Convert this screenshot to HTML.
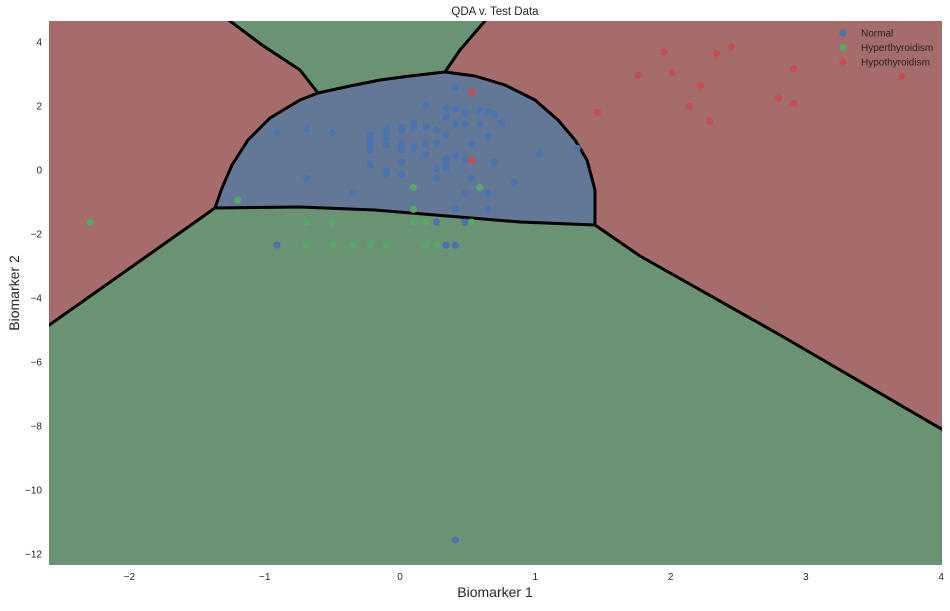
<!DOCTYPE html>
<html><head><meta charset="utf-8"><style>
body{margin:0;background:#fff;font-family:"Liberation Sans",sans-serif;}
svg text{font-family:"Liberation Sans",sans-serif;}
</style></head><body>
<svg id="chart" width="950" height="606" xmlns="http://www.w3.org/2000/svg"></svg>
<script>
const xTicks=[-2,-1,0,1,2,3,4];
const yTicks=[4,2,0,-2,-4,-6,-8,-10,-12];
const normalX=[0.41,0.19,0.34,0.41,0.48,0.59,0.65,0.70,0.34,0.75,0.41,0.48,0.59,-0.91,-0.69,-0.50,-0.22,-0.22,-0.22,-0.22,-0.10,-0.10,-0.10,-0.10,0.01,0.01,0.01,0.01,0.10,0.10,0.19,0.19,0.19,0.27,0.27,0.34,0.65,0.53,1.03,1.31,0.10,-0.22,0.01,-0.10,-0.10,0.01,0.27,0.34,0.34,0.34,0.41,0.48,0.70,-0.69,0.27,0.53,0.84,-0.35,0.48,0.65,0.41,0.65,0.27,0.48,-0.91,0.34,0.41,0.41];
const normalY=[2.58,2.03,1.93,1.90,1.77,1.86,1.83,1.74,1.65,1.49,1.44,1.44,1.44,1.16,1.30,1.16,1.09,0.94,0.78,0.63,1.30,1.15,0.99,0.78,1.33,1.23,0.81,0.63,1.46,1.33,1.35,0.81,0.50,1.25,0.84,1.09,1.05,0.81,0.50,0.68,0.71,0.15,0.24,-0.02,-0.14,-0.14,0.05,0.36,0.26,0.06,0.44,0.31,0.24,-0.26,-0.26,-0.26,-0.39,-0.73,-0.73,-0.73,-1.23,-1.23,-1.63,-1.63,-2.35,-2.35,-2.35,-11.56];
const hyperX=[-1.20,0.10,0.59,0.10,-0.69,-0.50,0.10,0.19,0.53,-0.69,-0.50,-0.35,-0.22,-0.10,0.19,0.27,-2.29];
const hyperY=[-0.94,-0.54,-0.54,-1.23,-1.63,-1.63,-1.63,-1.63,-1.63,-2.35,-2.35,-2.35,-2.35,-2.35,-2.35,-2.35,-1.63];
const hypoX=[0.53,0.53,1.46,1.76,1.95,2.01,2.14,2.22,2.29,2.34,2.45,2.80,2.91,2.91,3.71];
const hypoY=[2.43,0.30,1.80,2.96,3.69,3.05,1.99,2.65,1.52,3.65,3.86,2.24,2.08,3.16,2.93];

const NS="http://www.w3.org/2000/svg";
const svg=document.getElementById('chart');
const L=49,R=942,T=21,B=565;
const X=v=>400+v*135.3, Y=v=>170-v*32;
function mk(t,a,p){const e=document.createElementNS(NS,t);for(const k in a)e.setAttribute(k,a[k]);(p||svg).appendChild(e);return e;}

const clip=mk('clipPath',{id:'pc'});mk('rect',{x:L,y:T,width:R-L,height:B-T},clip);
const g=mk('g',{'clip-path':'url(#pc)'});


let e=mk('rect',{x:L,y:T,width:R-L,height:B-T,fill:'#6a9373'},g);


const arc="M215,208 L222,188 L232,165 L248,140 L270,118 L300,100 L318,93 L350,86 L380,80 L410,76 L445,72 L475,76 L505,85 L535,100 L558,120 L575,140 L587,160 L595,190 L595,225";
e=mk('path',{d:"M45,15 L222,15 L262,45 L300,70 L318,93 L300,100 L270,118 L248,140 L232,165 L222,188 L215,208 L130,268 L45,328 Z",fill:'#a66b6b'},g);


e=mk('path',{d:"M490,15 L950,15 L950,434 L780,335 L640,256 L595,225 L595,190 L587,160 L575,140 L558,120 L535,100 L505,85 L475,76 L445,72 L460,50 Z",fill:'#a66b6b'},g);


e=mk('path',{d:arc+" L520,222 L375,210 L300,207 L215,208 Z",fill:'#637896'},g);


const bl={fill:'none',stroke:'#000','stroke-width':3,'stroke-linejoin':'round'};
e=mk('path',Object.assign({d:arc+" L520,222 L375,210 L300,207 L215,208 L130,268 L45,328"},bl),g);


e=mk('path',Object.assign({d:"M222,15 L262,45 L300,70 L318,93"},bl),g);


e=mk('path',Object.assign({d:"M490,15 L460,50 L445,72"},bl),g);


e=mk('path',Object.assign({d:"M595,225 L640,256 L780,335 L950,434"},bl),g);



function pts(xs,ys,c,n){for(let i=0;i<xs.length;i++){const p=mk('circle',{cx:X(xs[i]),cy:Y(ys[i]),r:3.6,fill:c},g);

}}
pts(normalX,normalY,'#4c72b0','normal-point');
pts(hyperX,hyperY,'#55a868','hyperthyroidism-point');
pts(hypoX,hypoY,'#c44e52','hypothyroidism-point');

xTicks.forEach(v=>{const t=mk('text',{x:X(v),y:580,'font-size':10,fill:'#262626','text-anchor':'middle'});t.textContent=v<0?'\u2212'+(-v):v;

});
yTicks.forEach(v=>{const t=mk('text',{x:42,y:Y(v)+3.5,'font-size':10,fill:'#262626','text-anchor':'end'});t.textContent=v<0?'\u2212'+(-v):v;

});

let t=mk('text',{x:495,y:15,'font-size':11.5,fill:'#262626','text-anchor':'middle'});t.textContent='QDA v. Test Data';


t=mk('text',{x:495,y:597,'font-size':14,fill:'#262626','text-anchor':'middle'});t.textContent='Biomarker 1';


t=mk('text',{x:19,y:293,'font-size':14,fill:'#262626','text-anchor':'middle',transform:'rotate(-90 19 293)'});t.textContent='Biomarker 2';



const legNames=['Normal','Hyperthyroidism','Hypothyroidism'];
const legCols=['#4c72b0','#55a868','#c44e52'];
legNames.forEach((n,i)=>{const y=33+i*14.5;
const c=mk('circle',{cx:843,cy:y,r:3.6,fill:legCols[i]});


const tx=mk('text',{x:861,y:y+3.5,'font-size':10,fill:'#262626'});tx.textContent=n;

});
</script>
</body></html>
